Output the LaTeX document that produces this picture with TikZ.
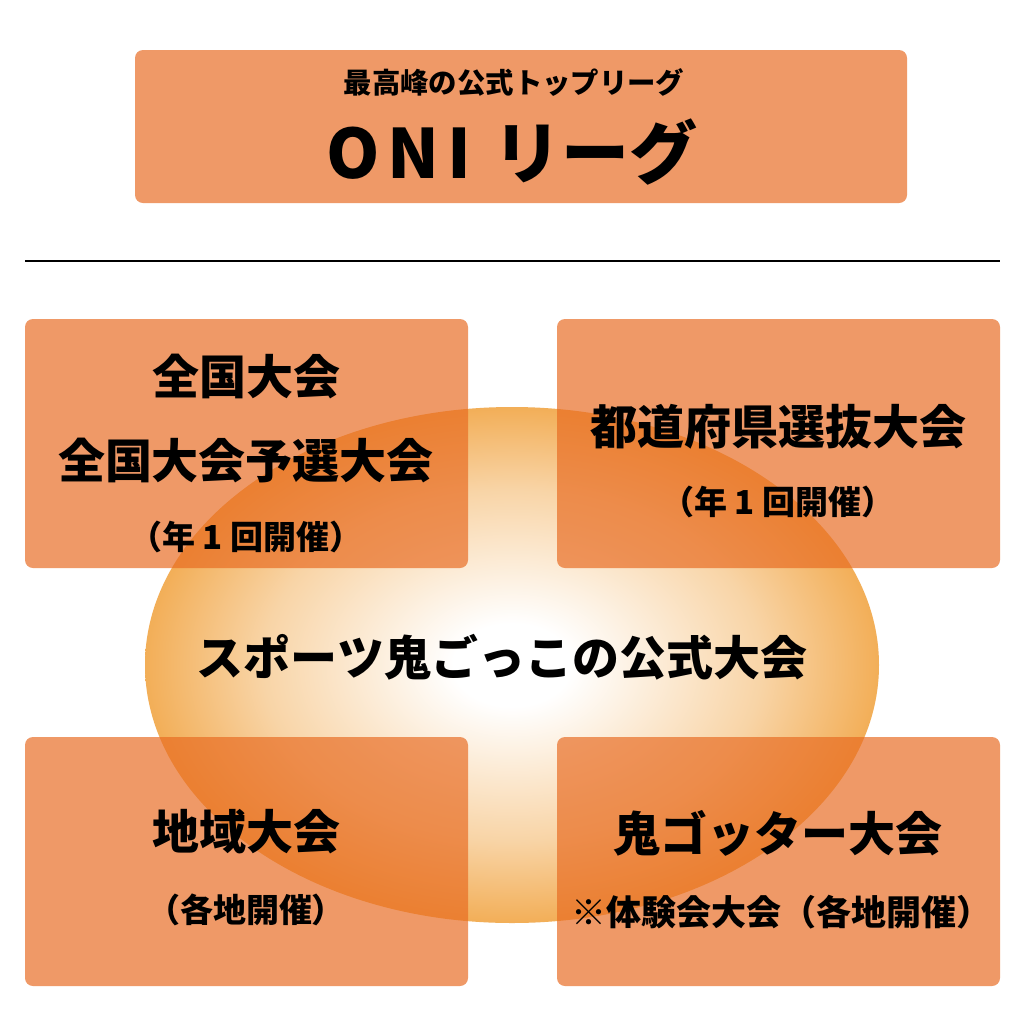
\documentclass[tikz,border=0pt]{standalone}
\usepackage{fontspec}
\setmainfont{Noto Sans CJK JP}[BoldFont={Noto Sans CJK JP Black}]
\definecolor{ov}{HTML}{F0A03A}
\definecolor{boxfill}{HTML}{E86A20}
\pgfdeclareradialshading{ovalshade}{\pgfpoint{0bp}{0bp}}{color(0bp)=(white); color(4bp)=(white); color(17bp)=(ov!45); color(28bp)=(ov); color(50bp)=(ov)}
\tikzset{
  box/.style={fill=boxfill, fill opacity=0.68, rounded corners=4pt, inner sep=0pt},
  big/.style={font=\bfseries\fontsize{23.5pt}{26pt}\selectfont, inner sep=0pt},
  small/.style={font=\bfseries\fontsize{16.5pt}{18pt}\selectfont, inner sep=0pt},
  top/.style={font=\bfseries\fontsize{14.2pt}{16pt}\selectfont, inner sep=0pt},
}
\begin{document}
\begin{tikzpicture}[x=0.5pt,y=-0.5pt]
\useasboundingbox[fill=white] (0,0) rectangle (1024,1024);
% central oval
\shade[shading=ovalshade] (512,665) ellipse [x radius=367, y radius=258];
% boxes
\node[box, minimum width=386pt, minimum height=76.5pt] (topbox) at (521,126.5) {};
\node[box, minimum width=221.5pt, minimum height=124.5pt] (tl) at (246.5,443.5) {};
\node[box, minimum width=221.5pt, minimum height=124.5pt] (tr) at (778.5,443.5) {};
\node[box, minimum width=221.5pt, minimum height=124.5pt] (bl) at (246.5,861.5) {};
\node[box, minimum width=221.5pt, minimum height=124.5pt] (br) at (778.5,861.5) {};
% divider
\coordinate (la) at (25,261);
\coordinate (lb) at (1000,261);
\draw[line width=1pt] (la) -- (lb);
% texts
\node[top] (t1) at (514,83) {最高峰の公式トップリーグ};
\node[font=\bfseries\fontsize{34pt}{38pt}\selectfont, inner sep=0pt] (t2) at (512,152) {{\addfontfeatures{LetterSpace=12}ONI}\hspace{11pt}リーグ};
\node[big] (tl1) at (246,377) {全国大会};
\node[big] (tl2) at (246,461) {全国大会予選大会};
\node[small] (tl3) at (246,537) {（年 1 回開催）};
\node[big] (tr1) at (778,427) {都道府県選抜大会};
\node[small] (tr2) at (778,502) {（年 1 回開催）};
\node[big] (c) at (502,657) {スポーツ鬼ごっこの公式大会};
\node[big] (bl1) at (246,832) {地域大会};
\node[small] (bl2) at (246,910) {（各地開催）};
\node[big] (br1) at (778,833) {鬼ゴッター大会};
\node[small, font=\bfseries\fontsize{17.5pt}{19pt}\selectfont] (br2) at (781,912) {※体験会大会（各地開催）};
\end{tikzpicture}
\end{document}
